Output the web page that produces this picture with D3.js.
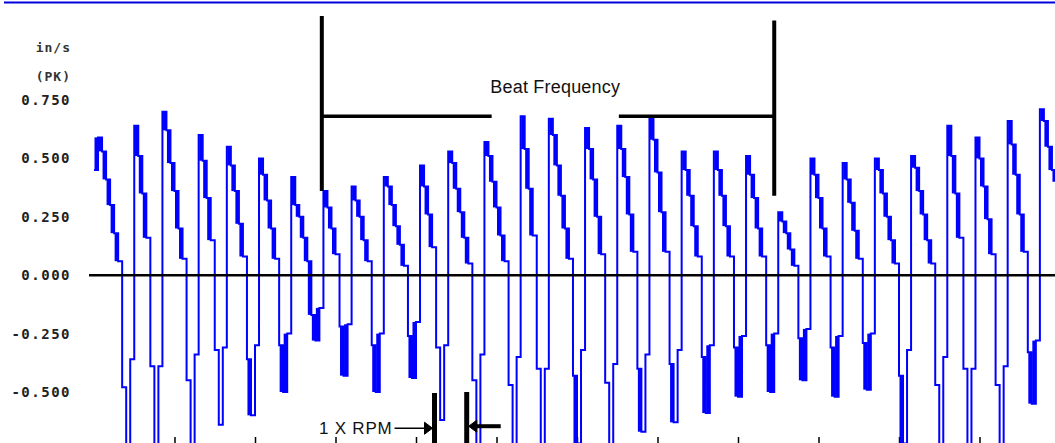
<!DOCTYPE html>
<html>
<head>
<meta charset="utf-8">
<script src="https://cdn.jsdelivr.net/npm/d3@7"></script>
<style>
  body{margin:0;background:#fff;overflow:hidden;}
  .ylab text{font-family:"DejaVu Sans Mono",monospace;font-weight:bold;font-size:14px;letter-spacing:1.5px;fill:#222;}
  .note{font-family:"Liberation Sans",Arial,sans-serif;fill:#111;}
</style>
</head>
<body>
<svg class="chart"></svg>
<script>
// waveform sampled every 0.5 ms (in/s peak)
const sampleStep=0.5;
const amp=[
  0.45,
  0.59,0.53,0.41,0.30,0.18,0.06,-0.48,-0.80,-0.36,
  0.64,0.51,0.35,0.16,-0.39,-0.78,-0.39,
  0.70,0.62,0.48,0.36,0.20,0.07,-0.45,-0.75,-0.34,
  0.60,0.49,0.33,0.15,-0.32,-0.64,-0.31,
  0.55,0.47,0.36,0.22,0.08,-0.36,-0.60,-0.30,
  0.50,0.43,0.32,0.20,0.07,-0.30,-0.50,-0.25,
  0.42,0.30,0.25,0.16,0.06,-0.17,-0.28,-0.14,
  0.36,0.29,0.20,0.09,-0.22,-0.43,-0.21,
  0.38,0.32,0.25,0.15,0.06,-0.30,-0.50,-0.25,
  0.42,0.38,0.30,0.21,0.13,0.04,-0.26,-0.44,-0.20,
  0.47,0.38,0.26,0.12,-0.31,-0.62,-0.30,
  0.53,0.48,0.37,0.27,0.16,0.05,-0.45,-0.75,-0.34,
  0.57,0.51,0.40,0.29,0.17,0.06,-0.47,-0.78,-0.35,
  0.68,0.54,0.37,0.17,-0.40,-0.80,-0.40,
  0.67,0.60,0.47,0.34,0.20,0.07,-0.43,-0.72,-0.32,
  0.63,0.54,0.41,0.25,0.09,-0.46,-0.76,-0.38,
  0.64,0.54,0.42,0.26,0.10,-0.40,-0.67,-0.34,
  0.68,0.58,0.44,0.27,0.10,-0.38,-0.63,-0.32,
  0.53,0.45,0.34,0.21,0.08,-0.35,-0.59,-0.30,
  0.53,0.45,0.34,0.21,0.08,-0.31,-0.52,-0.26,
  0.51,0.43,0.33,0.20,0.08,-0.30,-0.50,-0.25,
  0.27,0.23,0.18,0.11,0.04,-0.27,-0.45,-0.23,
  0.50,0.43,0.33,0.20,0.08,-0.31,-0.52,-0.26,
  0.48,0.41,0.31,0.19,0.07,-0.29,-0.49,-0.25,
  0.50,0.45,0.35,0.25,0.15,0.05,-0.43,-0.72,-0.32,
  0.51,0.46,0.36,0.26,0.15,0.05,-0.47,-0.78,-0.35,
  0.64,0.51,0.35,0.16,-0.40,-0.80,-0.40,
  0.59,0.50,0.38,0.24,0.09,-0.47,-0.78,-0.39,
  0.66,0.56,0.43,0.26,0.10,-0.33,-0.55,-0.28,
  0.71,0.66,0.55,0.45,0.40
];
const yTicks=[0.75,0.5,0.25,0,-0.25,-0.5];
const yLabels=["0.750","0.500","0.250","0.000","-0.250","-0.500"];
const xTicks=[10,20,30,40,50,60,70,80,90,100,110];
const unitLines=["in/s","(PK)"];
// annotations in data units (ms, in/s)
const beatStart=28.3,beatEnd=84.5,beatLevel=0.68,beatTop=1.11,beatBottom=0.36;
const rpmStart=42.3,rpmEnd=46.3,rpmLevel=-0.655,rpmTop=-0.5;

window.onload=function(){
  const W=1055,H=443;
  const svg=d3.select(".chart").attr("width",W).attr("height",H);
  const x=d3.scaleLinear().domain([0,120]).range([94,1060]);
  const y=d3.scaleLinear().domain([-0.5,0.75]).range([392,100]);

  // frame line at top
  svg.append("line")
      .attr("x1",4).attr("x2",W).attr("y1",2.5).attr("y2",2.5)
      .style("stroke","#0000dd").style("stroke-width",2);

  // unit label
  svg.selectAll(".unit")
      .data(unitLines)
      .enter()
    .append("text")
      .attr("class","unit")
      .attr("x",71)
      .attr("y",function(d,i){return 52+i*29;})
      .attr("text-anchor","end")
      .style("font-family","DejaVu Sans Mono,monospace")
      .style("font-size","13px")
      .style("font-weight","bold")
      .style("letter-spacing","1px")
      .style("fill","#333")
      .text(function(d){return d;});

  // y labels
  const yAxis=d3.axisLeft(y).tickValues(yTicks).tickSize(0).tickPadding(0)
      .tickFormat(function(d,i){return yLabels[i];});
  svg.append("g")
      .attr("class","ylab")
      .attr("transform","translate(71,0)")
      .call(yAxis)
      .call(function(g){g.select(".domain").remove();});

  // x ticks at bottom edge
  const xAxis=d3.axisBottom(x).tickValues(xTicks).tickSize(6).tickFormat("");
  svg.append("g")
      .attr("transform","translate(0,437)")
      .call(xAxis)
      .call(function(g){g.select(".domain").remove();g.selectAll("line").style("stroke","#000").style("stroke-width",1.5);});

  // waveform: min/max blocks where the signal steps by a small amount
  const blocks=amp.slice(0,-1).map(function(v,i){return {i:i,a:v,b:amp[i+1]};})
      .filter(function(d){return Math.abs(d.b-d.a)<0.3;});
  svg.append("g")
      .selectAll("rect")
      .data(blocks)
      .enter()
    .append("rect")
      .attr("x",function(d){return x(d.i*sampleStep)+0.5;})
      .attr("width",function(d){return x(sampleStep)-x(0)-0.5;})
      .attr("y",function(d){return y(Math.max(d.a,d.b));})
      .attr("height",function(d){return Math.abs(y(d.a)-y(d.b));})
      .style("fill","#0000ff");
  const line=d3.line()
      .x(function(d,i){return x(i*sampleStep);})
      .y(function(d){return y(d);})
      .curve(d3.curveStepAfter);
  svg.append("path")
      .datum(amp)
      .attr("d",line)
      .style("fill","none")
      .style("stroke","#0000ff")
      .style("stroke-width",2);

  // zero line
  svg.append("line")
      .attr("x1",89).attr("x2",W).attr("y1",y(0)).attr("y2",y(0))
      .style("stroke","#000").style("stroke-width",2.5);

  // beat frequency marker
  const bf=svg.append("g").style("stroke","#000").style("fill","none");
  bf.append("line").attr("x1",x(beatStart)).attr("x2",x(beatStart)).attr("y1",y(beatTop)).attr("y2",y(beatBottom)).style("stroke-width",4);
  bf.append("line").attr("x1",x(beatEnd)).attr("x2",x(beatEnd)).attr("y1",y(beatTop-0.02)).attr("y2",y(beatBottom-0.02)).style("stroke-width",4);
  bf.append("line").attr("x1",x(beatStart)).attr("x2",x(49.4)).attr("y1",y(beatLevel)).attr("y2",y(beatLevel)).style("stroke-width",3.5);
  bf.append("line").attr("x1",x(65.2)).attr("x2",x(beatEnd)).attr("y1",y(beatLevel)).attr("y2",y(beatLevel)).style("stroke-width",3.5);
  svg.append("text")
      .attr("class","note")
      .attr("x",(x(49.4)+x(65.2))/2)
      .attr("y",y(beatLevel)-23)
      .attr("text-anchor","middle")
      .style("font-size","18px")
      .style("letter-spacing","0.2px")
      .text("Beat Frequency");

  // 1X RPM marker
  const rp=svg.append("g").style("stroke","#000").style("fill","#000");
  rp.append("line").attr("x1",x(rpmStart)).attr("x2",x(rpmStart)).attr("y1",y(rpmTop)+1).attr("y2",H).style("stroke-width",5);
  rp.append("line").attr("x1",x(rpmEnd)).attr("x2",x(rpmEnd)).attr("y1",y(rpmTop)).attr("y2",H).style("stroke-width",5);
  rp.append("line").attr("x1",x(rpmStart)-40).attr("x2",x(rpmStart)-6).attr("y1",y(rpmLevel)).attr("y2",y(rpmLevel)).style("stroke-width",1.5);
  rp.append("line").attr("x1",x(rpmEnd)+6).attr("x2",x(rpmEnd)+34).attr("y1",y(rpmLevel)-2).attr("y2",y(rpmLevel)-2).style("stroke-width",4);
  const ay=y(rpmLevel);
  rp.append("path")
      .attr("d","M"+(x(rpmStart)-2)+","+ay+"l-8,-6v12z")
      .style("stroke-width",1);
  rp.append("path")
      .attr("d","M"+(x(rpmEnd)+2)+","+(ay-2)+"l8,-6v12z")
      .style("stroke-width",1);
  svg.append("text")
      .attr("class","note")
      .attr("x",x(rpmStart)-42)
      .attr("y",ay+6)
      .attr("text-anchor","end")
      .style("font-size","17px")
      .style("letter-spacing","0.8px")
      .text("1 X RPM");
};
</script>
</body>
</html>
